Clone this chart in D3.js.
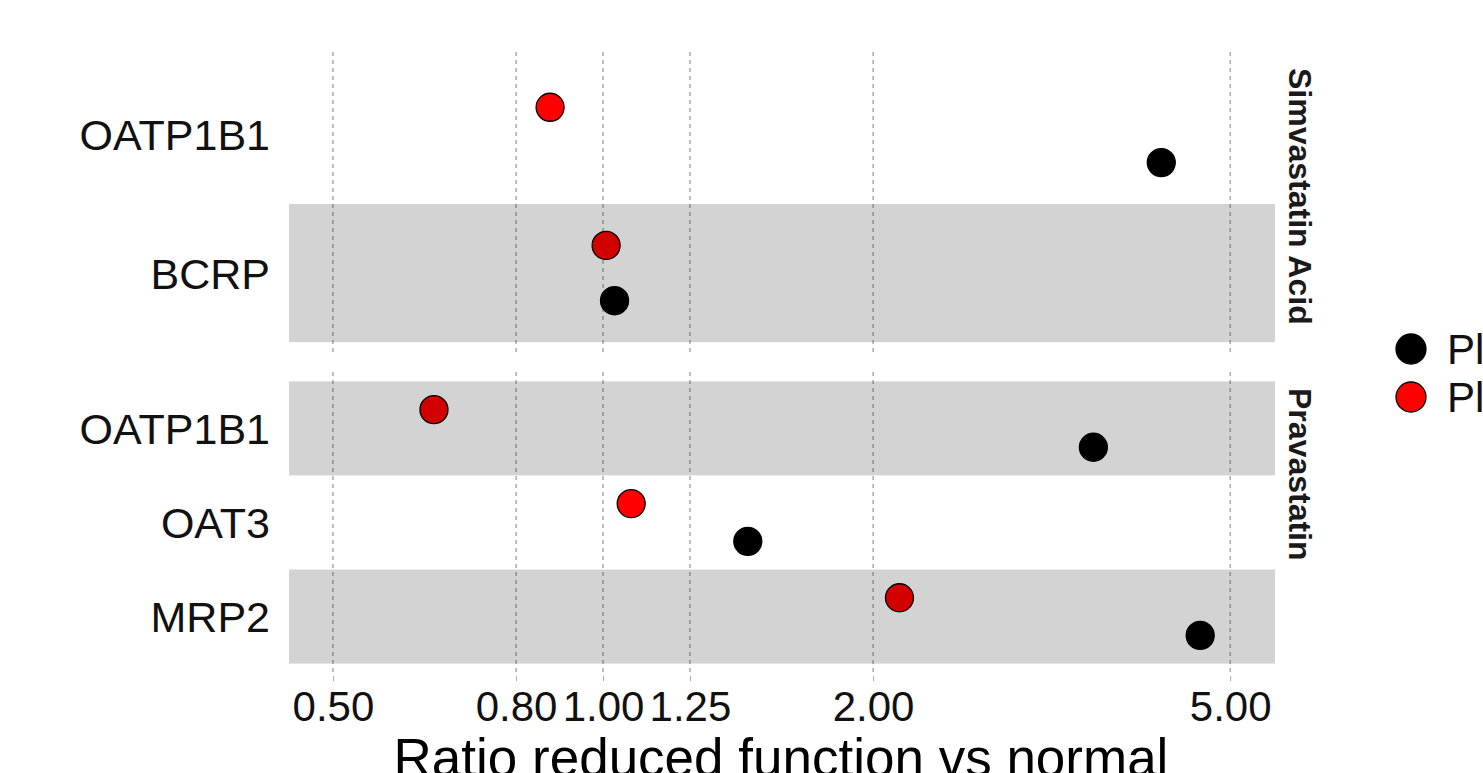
<!DOCTYPE html>
<html><head><meta charset="utf-8">
<script src="https://cdn.jsdelivr.net/npm/d3@7"></script>
<style>body{margin:0;background:#fff;overflow:hidden}</style>
</head><body>
<svg id="c" width="1483" height="773"></svg>
<script>
// ---- data ----
const panelNames = ["Simvastatin Acid", "Pravastatin"];
const simvaTransporters = ["OATP1B1", "BCRP"];            // top to bottom
const pravaTransporters = ["OATP1B1", "OAT3", "MRP2"];    // top to bottom
const seriesNames = ["Plasma", "Plasma liver"];
const simvaBlack = [4.19, 1.03];
const simvaRed   = [0.873, 1.008];
const pravaBlack = [3.52, 1.45, 4.63];
const pravaRed   = [0.648, 1.075, 2.14];
const xTicks = [0.5, 0.8, 1.0, 1.25, 2.0, 5.0];
const xTitle = "Ratio reduced function vs normal";

// ---- layout ----
const svg = d3.select("#c");
const left = 289, right = 1275;
const font = "'Liberation Sans', Arial, sans-serif";
const colors = ["#000000", "#FF0000"];

const x = d3.scaleLog().domain([0.4467, 5.61]).range([left, right]);

const panels = [
  {name: panelNames[0], cats: simvaTransporters, black: simvaBlack, red: simvaRed, top: 52, bottom: 356},
  {name: panelNames[1], cats: pravaTransporters, black: pravaBlack, red: pravaRed, top: 372, bottom: 673}
];

panels.forEach(p => {
  const y = d3.scaleBand().domain(p.cats).range([p.top, p.bottom]).paddingInner(0).paddingOuter(0.1);
  const bw = y.bandwidth();
  const g = svg.append("g");

  // grid lines
  g.selectAll("line.grid").data(xTicks).join("line")
    .attr("x1", d => x(d)).attr("x2", d => x(d))
    .attr("y1", p.top).attr("y2", p.bottom)
    .attr("stroke", "#8c8c8c").attr("stroke-width", 1.1)
    .attr("stroke-dasharray", "4,4");

  // points
  const pts = [];
  p.cats.forEach((c, i) => {
    pts.push({cat: c, v: p.red[i], s: 1, off: -0.2});
    pts.push({cat: c, v: p.black[i], s: 0, off: 0.2});
  });
  g.selectAll("circle.pt").data(pts).join("circle")
    .attr("cx", d => x(d.v))
    .attr("cy", d => y(d.cat) + bw / 2 + d.off * bw)
    .attr("r", 14)
    .attr("fill", d => colors[d.s])
    .attr("stroke", "#000").attr("stroke-width", 1.3);

  // alternating shaded bands (drawn on top, translucent)
  const n = p.cats.length;
  const shaded = p.cats.filter((c, i) => (n - 1 - i) % 2 === 0);
  g.selectAll("rect.band").data(shaded).join("rect")
    .attr("x", left).attr("width", right - left)
    .attr("y", d => y(d)).attr("height", bw)
    .attr("fill", "#000").attr("fill-opacity", 0.173);

  // y labels
  g.selectAll("text.ylab").data(p.cats).join("text")
    .attr("x", 270).attr("y", d => y(d) + bw / 2)
    .attr("dy", "0.36em")
    .attr("text-anchor", "end")
    .attr("font-family", font).attr("font-size", 43)
    .attr("fill", "#111")
    .text(d => d);

  // strip label
  svg.append("text")
    .attr("transform", `translate(1289,${p.top + 16}) rotate(90)`)
    .attr("text-anchor", "start")
    .attr("font-family", font).attr("font-size", 32).attr("font-weight", "bold")
    .attr("fill", "#1a1a1a")
    .text(p.name);
});

// x axis
const ax = svg.append("g").attr("transform", "translate(0,676)")
  .call(d3.axisBottom(x).tickValues(xTicks).tickFormat(d3.format(".2f")).tickSize(5).tickPadding(10));
ax.select(".domain").remove();
ax.selectAll(".tick line").attr("stroke", "#aaa");
ax.selectAll(".tick text")
  .attr("font-family", font).attr("font-size", 42).attr("fill", "#111");

// x title
svg.append("text")
  .attr("x", (left + right) / 2 - 1).attr("y", 776)
  .attr("text-anchor", "middle")
  .attr("font-family", font).attr("font-size", 53)
  .attr("fill", "#000")
  .text(xTitle);

// legend
const leg = svg.append("g");
seriesNames.forEach((s, i) => {
  leg.append("circle").attr("cx", 1411).attr("cy", 349 + i * 48).attr("r", 15)
    .attr("fill", colors[i]).attr("stroke", "#000").attr("stroke-width", 1.3);
  leg.append("text").attr("x", 1447).attr("y", 349 + i * 48).attr("dy", "0.36em")
    .attr("font-family", font).attr("font-size", 42).attr("fill", "#111")
    .text(s);
});
</script>
</body></html>
